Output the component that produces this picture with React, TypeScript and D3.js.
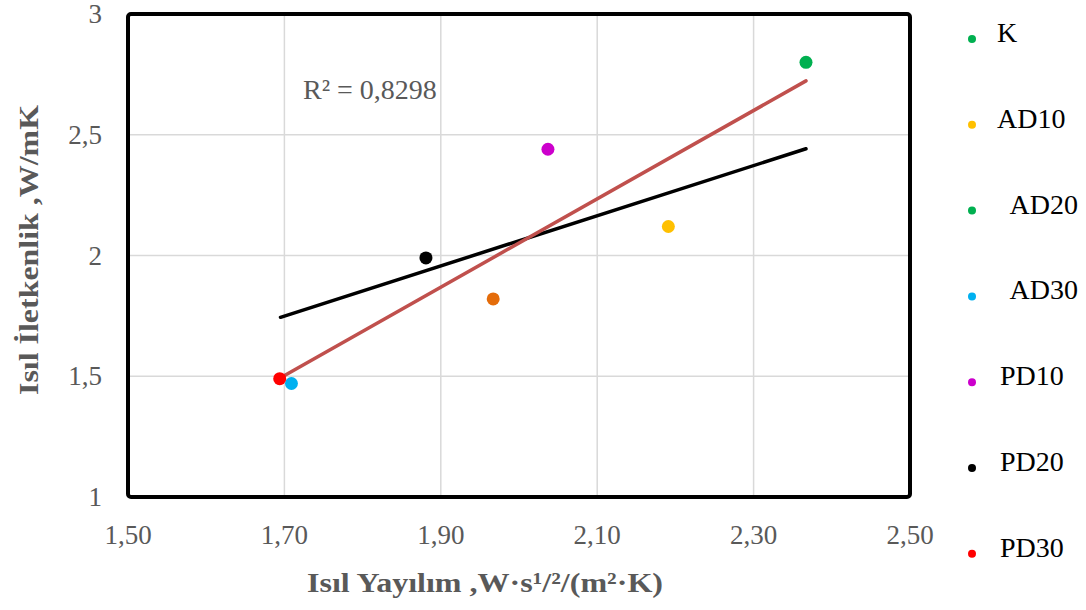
import React from "react";
import * as d3 from "d3";

const seriesNames = ["K", "AD10", "AD20", "AD30", "PD10", "PD20", "PD30"];
const xValues = [2.367, 2.191, 1.967, 1.709, 2.037, 1.881, 1.694];
const yValues = [2.8, 2.12, 1.82, 1.47, 2.44, 1.99, 1.49];
const pointColors = ["#00B050", "#FFC000", "#E46C0A", "#00B0F0", "#CC00CC", "#000000", "#FF0000"];
const legendColors = ["#00B050", "#FFC000", "#00B050", "#00B0F0", "#CC00CC", "#000000", "#FF0000"];
const legendLabels = ["K", "AD10", "  AD20", "  AD30", "PD10", "PD20", "PD30"];

const trendBlackX = [1.695, 2.367];
const trendBlackY = [1.744, 2.442];
const trendRedX = [1.694, 2.367];
const trendRedY = [1.492, 2.723];

const xTicks = [1.5, 1.7, 1.9, 2.1, 2.3, 2.5];
const yTicks = [1, 1.5, 2, 2.5, 3];
const r2Label = "R² = 0,8298";
const xTitle = "Isıl Yayılım ,W·s¹/²/(m²·K)";
const yTitle = "Isıl İletkenlik ,W/mK";

export default function App() {
  const x = d3.scaleLinear().domain([1.5, 2.5]).range([128, 910]);
  const y = d3.scaleLinear().domain([1, 3]).range([497, 14]);
  const line = d3
    .line<[number, number]>()
    .x((d) => x(d[0]))
    .y((d) => y(d[1]));
  const fmtX = (v: number) => v.toFixed(2).replace(".", ",");
  const fmtY = (v: number) => String(v).replace(".", ",");
  const font = "'Liberation Serif', 'Times New Roman', serif";
  const legendY0 = 39;
  const legendStep = 85.8;

  return (
    <svg
      width={1086}
      height={610}
      style={{ position: "absolute", left: 0, top: 0, background: "#fff" }}
      fontFamily={font}
    >
      {/* grid */}
      {xTicks.slice(1, -1).map((t) => (
        <line key={"gx" + t} x1={x(t)} x2={x(t)} y1={y(3)} y2={y(1)} stroke="#D9D9D9" strokeWidth={1.5} />
      ))}
      {yTicks.slice(1, -1).map((t) => (
        <line key={"gy" + t} x1={x(1.5)} x2={x(2.5)} y1={y(t)} y2={y(t)} stroke="#D9D9D9" strokeWidth={1.5} />
      ))}
      {/* frame */}
      <rect
        x={x(1.5)}
        y={y(3)}
        width={x(2.5) - x(1.5)}
        height={y(1) - y(3)}
        fill="none"
        stroke="#000"
        strokeWidth={4}
        rx={3}
      />
      {/* tick labels */}
      {xTicks.map((t) => (
        <text key={"xt" + t} x={x(t)} y={544} textAnchor="middle" fontSize={27} fill="#595959">
          {fmtX(t)}
        </text>
      ))}
      {yTicks.map((t) => (
        <text key={"yt" + t} x={102} y={y(t) + 9} textAnchor="end" fontSize={27} fill="#595959">
          {fmtY(t)}
        </text>
      ))}
      {/* trend lines */}
      <path
        d={line(trendBlackX.map((v, i) => [v, trendBlackY[i]]) as [number, number][]) || ""}
        stroke="#000"
        strokeWidth={3.5}
        fill="none"
        strokeLinecap="round"
      />
      <path
        d={line(trendRedX.map((v, i) => [v, trendRedY[i]]) as [number, number][]) || ""}
        stroke="#C0504D"
        strokeWidth={3.5}
        fill="none"
        strokeLinecap="round"
      />
      {/* points */}
      {seriesNames.map((s, i) => (
        <circle key={"p" + s} cx={x(xValues[i])} cy={y(yValues[i])} r={6.5} fill={pointColors[i]} />
      ))}
      {/* R2 label */}
      <text x={303} y={99} fontSize={28} fill="#595959">
        {r2Label}
      </text>
      {/* legend */}
      {seriesNames.map((s, i) => (
        <g key={"l" + s}>
          <circle cx={972} cy={legendY0 + i * legendStep} r={4} fill={legendColors[i]} />
          <text
            x={i >= 4 ? 1000 : 997}
            y={legendY0 + i * legendStep + 3}
            fontSize={28}
            fill="#000"
            style={{ whiteSpace: "pre" }}
          >
            {legendLabels[i]}
          </text>
        </g>
      ))}
      {/* axis titles */}
      <text
        x={485}
        y={592}
        textAnchor="middle"
        fontSize={28}
        fontWeight="bold"
        fill="#595959"
        textLength={356}
        lengthAdjust="spacingAndGlyphs"
      >
        {xTitle}
      </text>
      <text
        transform={`translate(38, 250) rotate(-90)`}
        textAnchor="middle"
        fontSize={28}
        fontWeight="bold"
        fill="#595959"
        textLength={290}
        lengthAdjust="spacingAndGlyphs"
      >
        {yTitle}
      </text>
    </svg>
  );
}
